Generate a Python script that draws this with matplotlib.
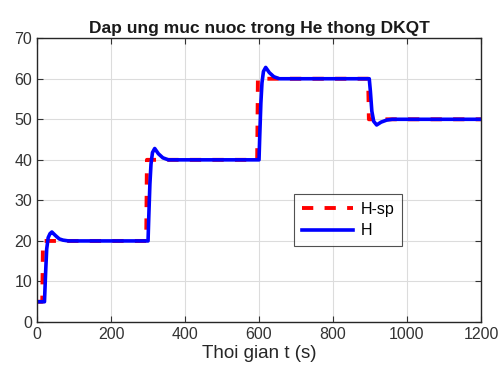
import matplotlib
matplotlib.use("Agg")
import matplotlib.pyplot as plt

# Setpoint (step) data
sp_t = [0, 14, 16, 295, 297, 595, 597, 895, 897, 1200]
sp_v = [5, 5, 20, 20, 40, 40, 60, 60, 50, 50]

# Measured level H
h_t = [0, 20, 23, 26, 30, 35, 40, 50, 60, 70, 85,
       300, 302, 305, 308, 312, 318, 328, 340, 355,
       600, 602, 605, 608, 612, 618, 628, 640, 655,
       898, 901, 905, 910, 918, 930, 945, 960, 1200]
h_v = [5, 5, 12, 18, 20.8, 21.8, 22.2, 21.3, 20.5, 20.2, 20,
       20, 26, 34, 39, 41.8, 42.8, 41.5, 40.5, 40,
       40, 46, 54, 59, 61.8, 62.8, 61.5, 60.5, 60,
       60, 57, 52, 49.5, 48.6, 49.3, 49.8, 50, 50]

plt.rcParams['font.family'] = ['Liberation Sans', 'DejaVu Sans']

fig = plt.figure(figsize=(5.01, 3.82), dpi=100)
ax = fig.add_axes([0.074, 0.157, 0.886, 0.743])

ax.plot(sp_t, sp_v, color='#ff0000', linestyle='--', linewidth=2.8, dashes=(2.9, 2.9), label='H-sp')
ax.plot(h_t, h_v, color='#0000ff', linewidth=2.6, label='H')

ax.set_xlim(0, 1200)
ax.set_ylim(0, 70)
ax.set_xticks(range(0, 1201, 200))
ax.set_yticks(range(0, 71, 10))
ax.grid(True, color='#dcdcdc', linewidth=0.8)
ax.set_axisbelow(True)
ax.tick_params(direction='in', top=True, right=True, labelsize=11.5, colors='#333333', length=4)
for s in ax.spines.values():
    s.set_color('#262626')
    s.set_linewidth(1.0)

ax.set_title('Dap ung muc nuoc trong He thong DKQT', fontsize=12.5, fontweight='bold', color='#1a1a1a', pad=4)
ax.set_xlabel('Thoi gian t (s)', fontsize=13.5, color='#262626', labelpad=2)

leg = ax.legend(loc='upper left', bbox_to_anchor=(0.56, 0.48), fontsize=11.5,
                frameon=True, fancybox=False, edgecolor='#262626',
                handlelength=3.2, borderpad=0.5, labelspacing=0.4, handletextpad=0.5)
leg.get_frame().set_linewidth(0.8)

fig.savefig('out.png', dpi=100)
